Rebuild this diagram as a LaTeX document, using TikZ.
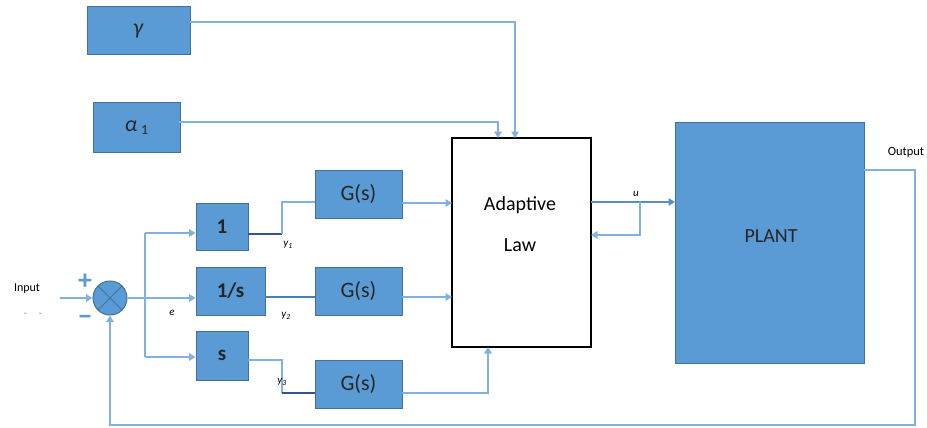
\documentclass[tikz,border=0pt]{standalone}
\usepackage{fontspec}
\setmainfont{Carlito}
\usetikzlibrary{arrows.meta}
\definecolor{boxfill}{HTML}{5B9BD5}
\definecolor{boxedge}{HTML}{41719C}
\definecolor{wirec}{HTML}{7FB2E0}
\definecolor{darkwire}{HTML}{2F5597}
\definecolor{midwire}{HTML}{4A7EBB}
\begin{document}
\begin{tikzpicture}[x=1pt,y=-1pt,
  blk/.style={draw=boxedge, line width=1pt, fill=boxfill, inner sep=0pt, text=black!85},
  wire/.style={draw=wirec, line width=1.7pt},
  dwire/.style={draw=darkwire, line width=1.7pt},
  mwire/.style={draw=midwire, line width=1.7pt},
  arr/.style={wire, -{Triangle[width=7.5pt,length=6.5pt]}},
  lbl/.style={inner sep=0pt, font=\fontsize{11}{12}\itshape},
  big/.style={font=\fontsize{22}{24}\selectfont},
  bnum/.style={font=\fontsize{21}{24}\bfseries},
  sign/.style={inner sep=0pt, font=\fontsize{28}{28}\bfseries, text=boxfill}]
\useasboundingbox (0,0) rectangle (927,428);
% blocks
\node[blk, minimum width=103pt, minimum height=48pt, big] (gamma) at (138.5,31) {\textit{γ}};
\node[blk, minimum width=87pt, minimum height=49pt, big] (alpha) at (136.5,127.5) {\textit{α}\,\raisebox{-3pt}{\fontsize{14}{14}\selectfont 1}};
\node[draw=black, line width=2.6pt, fill=white, minimum width=139pt, minimum height=209pt] (ada) at (521.5,242.5) {};
\node[font=\fontsize{20}{22}\selectfont] (adat) at (520,205) {Adaptive};
\node[font=\fontsize{20}{22}\selectfont] (lawt) at (520,245) {Law};
\node[blk, minimum width=189pt, minimum height=241pt] (plant) at (769.5,242.5) {};
\node[font=\fontsize{20}{22}\selectfont, text=black!85] (plantt) at (771,236) {PLANT};
\node[blk, minimum width=52pt, minimum height=47pt, bnum] (one) at (222,226.5) {1};
\node[blk, minimum width=69pt, minimum height=48pt, bnum] (inv) at (230.5,291) {1/s};
\node[blk, minimum width=52pt, minimum height=49pt, bnum] (ess) at (222,355.5) {s};
\node[blk, minimum width=87pt, minimum height=48pt, big] (g1) at (358.5,194) {G(s)};
\node[blk, minimum width=87pt, minimum height=48pt, big] (g2) at (358.5,291) {G(s)};
\node[blk, minimum width=87pt, minimum height=48pt, big] (g3) at (358.5,384) {G(s)};
\node[circle, draw=boxedge, line width=1pt, fill=boxfill, minimum size=34pt, inner sep=0pt] (sum) at (110,298) {};
\draw[boxedge, line width=1pt] (sum.north west) -- (sum.south east) (sum.north east) -- (sum.south west);
% coordinates
\coordinate (in) at (60,298);
\coordinate (b) at (145,298);
\coordinate (bt) at (145,233);
\coordinate (bb) at (145,357);
\coordinate (o1) at (248,234);
\coordinate (k1) at (282,234);
\coordinate (k1t) at (282,202);
\coordinate (i1) at (315,202);
\coordinate (o2) at (265,297);
\coordinate (i2) at (315,297);
\coordinate (o3) at (248,360);
\coordinate (k3) at (282,360);
\coordinate (k3b) at (282,393);
\coordinate (i3) at (315,393);
\coordinate (g1o) at (402,203);
\coordinate (a1) at (452,203);
\coordinate (g2o) at (402,297);
\coordinate (a2) at (452,297);
\coordinate (g3o) at (402,393);
\coordinate (c3) at (488,393);
\coordinate (a3) at (488,347);
\coordinate (go) at (190,22);
\coordinate (gk) at (515,22);
\coordinate (ga) at (515,138);
\coordinate (ao) at (179,122);
\coordinate (ak) at (498,122);
\coordinate (aa) at (498,138);
\coordinate (uo) at (591,202);
\coordinate (ui) at (675,202);
\coordinate (ub) at (640,202);
\coordinate (ubk) at (640,235);
\coordinate (ur) at (591,235);
\coordinate (po) at (864,170);
\coordinate (pk) at (915,170);
\coordinate (pb) at (915,425);
\coordinate (sb) at (110,425);
% connectors
\draw[arr] (in) -- (sum.west);
\draw[wire] (sum.east) -- (b);
\draw[arr] (b) -- (inv.west |- b);
\draw[wire] (bt) -- (bb);
\draw[arr] (bt) -- (one.west |- bt);
\draw[arr] (bb) -- (ess.west |- bb);
\draw[dwire] (o1) -- (k1);
\draw[wire] (k1) -- (k1t) -- (i1);
\draw[mwire] (o2) -- (i2);
\draw[wire] (o3) -- (k3) -- (k3b);
\draw[dwire] (k3b) -- (i3);
\draw[arr] (g1o) -- (a1);
\draw[arr] (g2o) -- (a2);
\draw[arr] (g3o) -- (c3) -- (a3);
\draw[arr] (go) -- (gk) -- (ga);
\draw[arr] (ao) -- (ak) -- (aa);
\draw[arr, draw=midwire!70!wirec] (uo) -- (ui);
\draw[arr] (ub) -- (ubk) -- (ur);
\draw[arr] (po) -- (pk) -- (pb) -- (sb) -- (sum.south);
% labels
\node[inner sep=0pt, font=\fontsize{12}{13}\selectfont] (inl) at (27,289) {Input};
\node[inner sep=0pt, text=gray, font=\fontsize{10}{11}\selectfont] (dots) at (33,315) {-\hspace{12pt}-};
\node[sign] (plus) at (85,282) {+};
\node[sign] (minus) at (85,320) {−};
\node[lbl] (el) at (172,313) {e};
\node[lbl] (y1) at (288,245) {y\textsubscript{1}};
\node[lbl] (y2) at (286,316) {y\textsubscript{2}};
\node[lbl] (y3) at (282,382) {y\textsubscript{3}};
\node[lbl] (ul) at (636,194) {u};
\node[inner sep=0pt, font=\fontsize{12.5}{13}\selectfont] (outl) at (906,152) {Output};
\end{tikzpicture}
\end{document}
